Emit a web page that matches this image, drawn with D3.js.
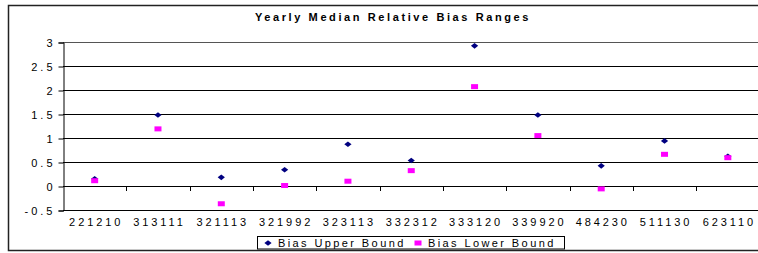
<!DOCTYPE html>
<html>
<head>
<meta charset="utf-8">
<script src="https://cdn.jsdelivr.net/npm/d3@7"></script>
<style>
  body { margin: 0; background: #fff; }
  text { font-family: "Liberation Sans", Arial, sans-serif; }
</style>
</head>
<body>
<div id="chart"></div>
<script>
const categories = ["221210", "313111", "321113", "321992", "323113", "332312",
                    "333120", "339920", "484230", "511130", "623110"];
const upperBound = [0.15, 1.48, 0.18, 0.34, 0.87, 0.53, 2.92, 1.48, 0.42, 0.94, 0.62];
const lowerBound = [0.11, 1.19, -0.37, 0.01, 0.10, 0.32, 2.07, 1.05, -0.06, 0.66, 0.59];
const yTicks = [-0.5, 0, 0.5, 1, 1.5, 2, 2.5, 3];
const seriesNames = ["Bias Upper Bound", "Bias Lower Bound"];

const width = 758, height = 253;
const plotLeft = 63, plotRight = 759.5, plotTop = 42, plotBottom = 210;

const svg = d3.select("#chart").append("svg")
    .attr("width", width).attr("height", height);

// outer chart border
svg.append("rect")
    .attr("x", 8.5).attr("y", 5.5)
    .attr("width", 760).attr("height", 245)
    .attr("fill", "none").attr("stroke", "#222").attr("stroke-width", 1.5);

let x = d3.scaleBand().domain(categories).range([plotLeft, plotRight]);
let y = d3.scaleLinear().domain([-0.5, 3]).range([plotBottom, plotTop]);

// title
svg.append("text")
    .attr("x", 393).attr("y", 21)
    .attr("text-anchor", "middle")
    .attr("font-size", "11px").attr("font-weight", "bold")
    .attr("letter-spacing", "2.6px")
    .text("Yearly Median Relative Bias Ranges");

// grid lines
svg.append("g")
    .selectAll("line")
    .data(yTicks)
    .join("line")
    .attr("x1", plotLeft).attr("x2", plotRight)
    .attr("y1", d => Math.round(y(d)) + 0.5).attr("y2", d => Math.round(y(d)) + 0.5)
    .attr("stroke", d => d == 3 ? "#555" : "#000")
    .attr("stroke-width", 1);

// y axis
let yAxis = svg.append("g")
    .attr("transform", `translate(${plotLeft + 0.5},0.5)`)
    .call(d3.axisLeft(y).tickValues(yTicks).tickSize(5).tickPadding(6).tickFormat(d => d));
yAxis.select(".domain").attr("stroke", "#000");
yAxis.selectAll(".tick line").attr("stroke", "#000");
yAxis.selectAll(".tick text")
    .attr("font-size", "11px").attr("fill", "#000")
    .attr("letter-spacing", "3px").attr("dx", "3px")
    .attr("font-family", "Liberation Sans, Arial, sans-serif");

// category boundary ticks on the zero line
svg.append("g")
    .selectAll("line")
    .data(categories.slice(1))
    .join("line")
    .attr("x1", d => Math.round(x(d)) + 0.5).attr("x2", d => Math.round(x(d)) + 0.5)
    .attr("y1", Math.round(y(0))).attr("y2", Math.round(y(0)) + 5)
    .attr("stroke", "#000");

// category labels
let xAxis = svg.append("g")
    .attr("transform", `translate(0,${plotBottom})`)
    .call(d3.axisBottom(x).tickSize(0).tickPadding(8));
xAxis.select(".domain").remove();
xAxis.selectAll(".tick text")
    .attr("font-size", "11px").attr("fill", "#000")
    .attr("letter-spacing", "2.9px").attr("dx", "1.5px")
    .attr("font-family", "Liberation Sans, Arial, sans-serif");

const diamond = "M0,-2.8L3.6,0L0,2.8L-3.6,0Z";

// upper bound points
svg.append("g")
    .selectAll("path")
    .data(upperBound)
    .join("path")
    .attr("d", diamond)
    .attr("transform", (d, i) => `translate(${x(categories[i]) + x.bandwidth() / 2},${y(d)})`)
    .attr("fill", "#000080");

// lower bound points
svg.append("g")
    .selectAll("rect")
    .data(lowerBound)
    .join("rect")
    .attr("x", (d, i) => x(categories[i]) + x.bandwidth() / 2 - 3.5)
    .attr("y", d => y(d) - 2.5)
    .attr("width", 7).attr("height", 5)
    .attr("fill", "#ff00ff");

// legend
let legend = svg.append("g");
legend.append("rect")
    .attr("x", 257.5).attr("y", 236.5)
    .attr("width", 307).attr("height", 12.5)
    .attr("fill", "#fff").attr("stroke", "#000");
legend.append("path")
    .attr("d", diamond)
    .attr("transform", "translate(268,243)")
    .attr("fill", "#000080");
legend.append("rect")
    .attr("x", 414.5).attr("y", 240.5)
    .attr("width", 7).attr("height", 5)
    .attr("fill", "#ff00ff");
legend.selectAll("text")
    .data(seriesNames)
    .join("text")
    .attr("x", (d, i) => i == 0 ? 278 : 428)
    .attr("y", 246.5)
    .attr("font-size", "11px")
    .attr("letter-spacing", "2.4px")
    .text(d => d);
</script>
</body>
</html>
